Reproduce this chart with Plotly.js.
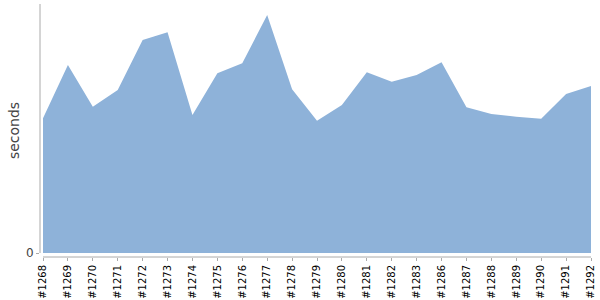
<!DOCTYPE html>
<html><head><meta charset="utf-8">
<script src="https://cdn.plot.ly/plotly-3.0.1.min.js"></script>
<style>html,body{margin:0;padding:0;background:#fff}#chart{width:600px;height:300px}</style>
</head><body><div id="chart"></div>
<script>
const builds = ["#1268","#1269","#1270","#1271","#1272","#1273","#1274","#1275","#1276","#1277","#1278","#1279","#1280","#1281","#1282","#1283","#1286","#1287","#1288","#1289","#1290","#1291","#1292"];
const seconds = [134.7,188,146.3,163,213,220.7,138,179.7,189.7,238,163.7,132.3,148,180.7,171.3,178,190.7,145.7,139,136.3,134.3,159,167];
const yTicks = [0];

const n = builds.length;
const trace = {
  x: builds, y: seconds, type: 'scatter', mode: 'none',
  fill: 'tozeroy', fillcolor: 'rgb(142,178,217)', hoverinfo: 'skip'
};
const layout = {
  width: 600, height: 300,
  margin: {l: 40, r: 9, t: 4, b: 43},
  paper_bgcolor: '#fff', plot_bgcolor: '#fff',
  showlegend: false,
  font: {family: 'DejaVu Sans', color: '#444'},
  xaxis: {
    type: 'category', range: [-0.1204, n - 1],
    showgrid: false, zeroline: false, showline: false,
    ticks: 'outside', ticklen: 3, tickcolor: '#aaa', tickwidth: 1,
    tickangle: -90, tickfont: {size: 10, color: '#000'}, fixedrange: true
  },
  yaxis: {
    range: [-4, 249], tickvals: yTicks, ticktext: yTicks.map(String),
    showgrid: false, zeroline: false, showline: false,
    ticks: 'outside', ticklen: 3, tickcolor: '#aaa',
    tickfont: {size: 12, color: '#444'},
    title: {text: 'seconds', font: {size: 14, color: '#444'}, standoff: 3}
  },
  shapes: [
    {type: 'line', xref: 'paper', yref: 'y', x0: 0, x1: 0, y0: 0, y1: 249, line: {color: '#aaa', width: 1}},
    {type: 'line', xref: 'x', yref: 'paper', x0: 0, x1: n - 1, y0: 0, y1: 0, line: {color: '#aaa', width: 1}}
  ]
};
Plotly.newPlot('chart', [trace], layout, {displayModeBar: false, staticPlot: true});
</script></body></html>
